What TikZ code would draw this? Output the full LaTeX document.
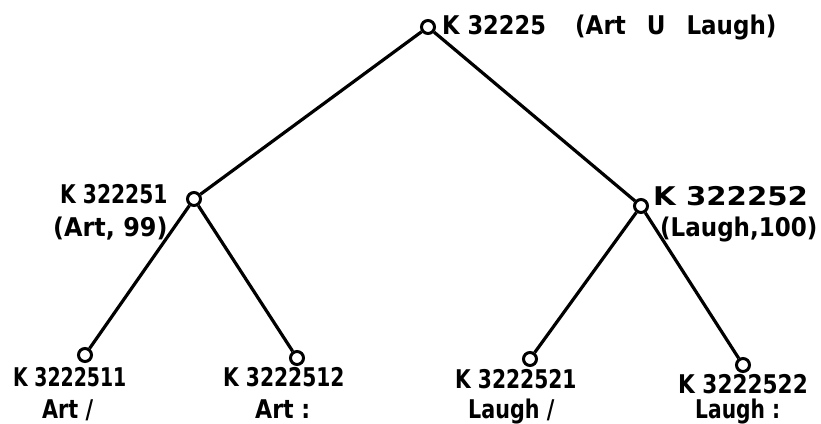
\documentclass[tikz,border=0pt]{standalone}
\usepackage{fontspec}
\usepackage{graphicx}
\setmainfont{DejaVu Sans}
\newcommand{\sx}[2]{\scalebox{#1}[1.12]{#2}}
\tikzset{
  knot/.style={circle,draw,line width=3pt,minimum size=13pt,inner sep=0pt,fill=white},
  edge/.style={line width=3.2pt},
  lbl/.style={inner sep=0pt,anchor=base west,font=\fontsize{23}{23}\selectfont\bfseries}
}
\begin{document}
\begin{tikzpicture}[x=1pt,y=-1pt]
\useasboundingbox (0,0) rectangle (821,423);
% nodes
\node[knot] (r) at (428,27) {};
\node[knot] (a) at (194,199) {};
\node[knot] (b) at (641,206) {};
\node[knot] (a1) at (85,355) {};
\node[knot] (a2) at (297,358) {};
\node[knot] (b1) at (530,359) {};
\node[knot] (b2) at (743,365) {};
% edges
\draw[edge] (r) -- (a);
\draw[edge] (r) -- (b);
\draw[edge] (a) -- (a1);
\draw[edge] (a) -- (a2);
\draw[edge] (b) -- (b1);
\draw[edge] (b) -- (b2);
% labels
\node[lbl] (tr1) at (442,34) {\sx{0.98}{K 32225}};
\node[lbl] (tr2) at (575,34) {\sx{1.0}{(Art\hspace{21pt}U\hspace{21pt}Laugh)}};
\node[lbl] (ta1) at (60,203) {\sx{0.88}{K 322251}};
\node[lbl] (ta2) at (53,236) {\sx{1.04}{(Art, 99)}};
\node[lbl] (tb1) at (653,205) {\sx{1.27}{K 322252}};
\node[lbl] (tb2) at (660,236) {\sx{1.0}{(Laugh,100)}};
\node[lbl] (tl1) at (13,386) {\sx{0.82}{K 3222511}};
\node[lbl] (tl1b) at (42,418) {\sx{0.9}{Art /}};
\node[lbl] (tl2) at (223,386) {\sx{0.88}{K 3222512}};
\node[lbl] (tl2b) at (255,418) {\sx{0.96}{Art :}};
\node[lbl] (tl3) at (455,388) {\sx{0.88}{K 3222521}};
\node[lbl] (tl3b) at (468,418) {\sx{0.9}{Laugh /}};
\node[lbl] (tl4) at (678,393) {\sx{0.94}{K 3222522}};
\node[lbl] (tl4b) at (695,418) {\sx{0.88}{Laugh :}};
\end{tikzpicture}
\end{document}
